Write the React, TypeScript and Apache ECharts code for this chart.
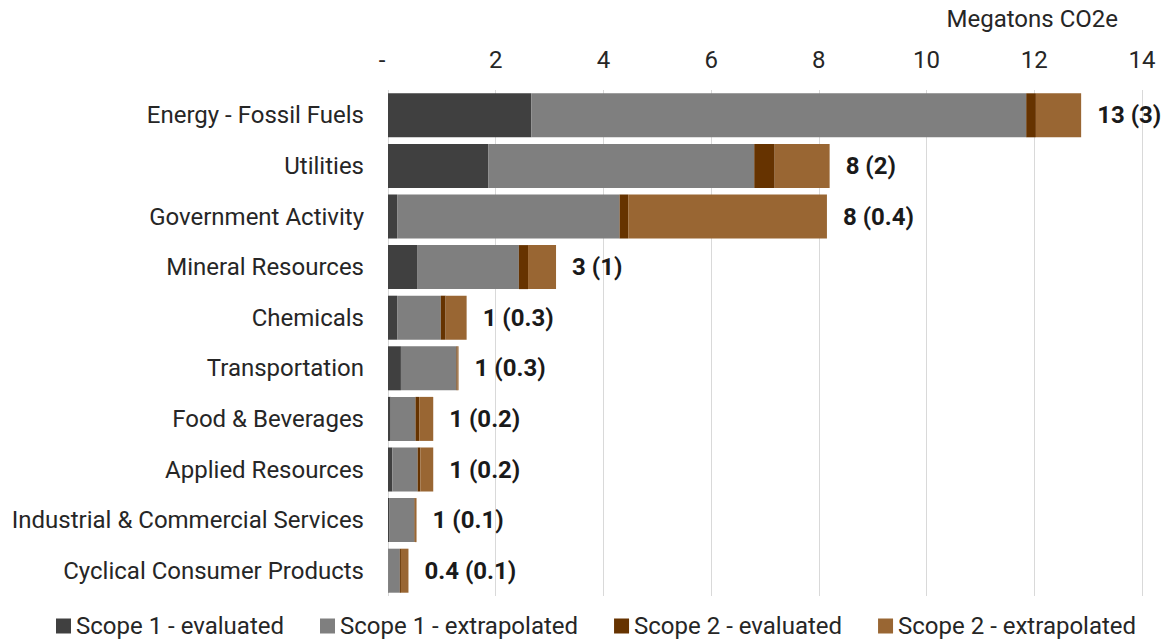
import React, { useEffect, useRef } from "react";
import * as echarts from "echarts";

const categories = [
  "Energy - Fossil Fuels",
  "Utilities",
  "Government Activity",
  "Mineral Resources",
  "Chemicals",
  "Transportation",
  "Food & Beverages",
  "Applied Resources",
  "Industrial & Commercial Services",
  "Cyclical Consumer Products",
];
const scope1Evaluated = [2.66, 1.86, 0.17, 0.55, 0.17, 0.24, 0.05, 0.08, 0.02, 0.01];
const scope1Extrapolated = [9.19, 4.94, 4.13, 1.88, 0.81, 1.03, 0.46, 0.47, 0.47, 0.21];
const scope2Evaluated = [0.18, 0.38, 0.16, 0.17, 0.09, 0.02, 0.07, 0.05, 0.01, 0.02];
const scope2Extrapolated = [0.84, 1.02, 3.69, 0.52, 0.39, 0.02, 0.26, 0.24, 0.03, 0.14];
const totalLabels = [
  "13 (3)",
  "8 (2)",
  "8 (0.4)",
  "3 (1)",
  "1 (0.3)",
  "1 (0.3)",
  "1 (0.2)",
  "1 (0.2)",
  "1 (0.1)",
  "0.4 (0.1)",
];
const seriesNames = [
  "Scope 1 - evaluated",
  "Scope 1 - extrapolated",
  "Scope 2 - evaluated",
  "Scope 2 - extrapolated",
];
const colors = ["#404040", "#7f7f7f", "#663300", "#996633"];
const axisName = "Megatons CO2e";

const FONT = "Roboto, 'Noto Sans', sans-serif";

export default function App() {
  const ref = useRef<HTMLDivElement>(null);
  useEffect(() => {
    document.body.style.margin = "0";
    const chart = echarts.init(ref.current!, null, { renderer: "svg" });
    const data = [scope1Evaluated, scope1Extrapolated, scope2Evaluated, scope2Extrapolated];
    chart.setOption({
      animation: false,
      textStyle: { fontFamily: FONT },
      color: colors,
      grid: { left: 388, right: 26, top: 90, bottom: 44 },
      legend: {
        top: 614,
        padding: 0,
        left: 56,
        itemWidth: 15,
        itemHeight: 15,
        itemGap: 36,
        icon: "rect",
        textStyle: { fontSize: 24, color: "#262626", fontFamily: FONT },
        data: seriesNames,
      },
      graphic: [
        {
          type: "text",
          right: 50,
          top: 7,
          style: { text: axisName, fontSize: 24, fill: "#262626", fontFamily: FONT },
        },
      ],
      xAxis: {
        type: "value",
        position: "top",
        min: 0,
        max: 14,
        interval: 2,
        axisLine: { show: false },
        axisTick: { show: false },
        splitLine: { lineStyle: { color: "#d9d9d9", width: 1 } },
        axisLabel: {
          fontSize: 24,
          color: "#262626",
          margin: 18,
          formatter: (v: number) => (v === 0 ? "-  " : String(v)),
        },
      },
      yAxis: {
        type: "category",
        inverse: true,
        data: categories,
        axisLine: { show: false },
        axisTick: { show: false },
        axisLabel: { fontSize: 24, color: "#262626", margin: 24 },
      },
      series: data.map((d, i) => ({
        name: seriesNames[i],
        type: "bar",
        stack: "total",
        barCategoryGap: "13%",
        data: d,
        itemStyle: { color: colors[i] },
        label:
          i === 3
            ? {
                show: true,
                position: "right",
                distance: 16,
                fontSize: 24,
                fontWeight: "bold",
                color: "#1a1a1a",
                formatter: (p: any) => totalLabels[p.dataIndex],
              }
            : { show: false },
      })),
    });
    return () => chart.dispose();
  }, []);
  return <div ref={ref} style={{ width: 1168, height: 640 }} />;
}
